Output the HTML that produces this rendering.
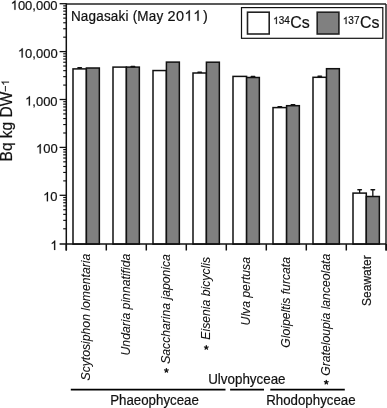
<!DOCTYPE html><html><head><meta charset="utf-8"><style>html,body{margin:0;padding:0;background:#fff;}svg{display:block;filter:grayscale(1);}text{font-family:"Liberation Sans",sans-serif;stroke:#111;stroke-width:0.2px;}text[font-style=italic]{stroke-width:0.08px;}</style></head><body>
<svg width="387" height="408" viewBox="0 0 387 408">
<line x1="66.3" y1="4.0" x2="386.0" y2="4.0" stroke="#222" stroke-width="1.6"/>
<line x1="386.0" y1="4.0" x2="386.0" y2="250.5" stroke="#222" stroke-width="1.5"/>
<rect x="73.00" y="68.90" width="13.40" height="175.20" fill="#fff" stroke="#111" stroke-width="1.5"/>
<rect x="86.40" y="68.00" width="12.95" height="176.10" fill="#808080" stroke="#111" stroke-width="1.5"/>
<line x1="79.70" y1="67.90" x2="79.70" y2="68.90" stroke="#111" stroke-width="1.3"/>
<line x1="78.00" y1="67.90" x2="81.40" y2="67.90" stroke="#111" stroke-width="1.6" stroke-linecap="round"/>
<rect x="113.00" y="67.10" width="13.40" height="177.00" fill="#fff" stroke="#111" stroke-width="1.5"/>
<rect x="126.40" y="67.10" width="12.95" height="177.00" fill="#808080" stroke="#111" stroke-width="1.5"/>
<line x1="132.88" y1="66.60" x2="132.88" y2="67.10" stroke="#111" stroke-width="1.3"/>
<line x1="131.18" y1="66.60" x2="134.57" y2="66.60" stroke="#111" stroke-width="1.6" stroke-linecap="round"/>
<rect x="153.00" y="70.55" width="13.40" height="173.55" fill="#fff" stroke="#111" stroke-width="1.5"/>
<rect x="166.40" y="62.10" width="12.95" height="182.00" fill="#808080" stroke="#111" stroke-width="1.5"/>
<rect x="193.00" y="73.00" width="13.40" height="171.10" fill="#fff" stroke="#111" stroke-width="1.5"/>
<rect x="206.40" y="62.20" width="12.95" height="181.90" fill="#808080" stroke="#111" stroke-width="1.5"/>
<line x1="199.70" y1="72.30" x2="199.70" y2="73.00" stroke="#111" stroke-width="1.3"/>
<line x1="198.00" y1="72.30" x2="201.40" y2="72.30" stroke="#111" stroke-width="1.6" stroke-linecap="round"/>
<rect x="233.00" y="76.40" width="13.60" height="167.70" fill="#fff" stroke="#111" stroke-width="1.5"/>
<rect x="246.60" y="77.50" width="12.75" height="166.60" fill="#808080" stroke="#111" stroke-width="1.5"/>
<line x1="252.98" y1="76.60" x2="252.98" y2="77.50" stroke="#111" stroke-width="1.3"/>
<line x1="251.28" y1="76.60" x2="254.68" y2="76.60" stroke="#111" stroke-width="1.6" stroke-linecap="round"/>
<rect x="273.00" y="107.60" width="13.60" height="136.50" fill="#fff" stroke="#111" stroke-width="1.5"/>
<rect x="286.60" y="105.70" width="12.75" height="138.40" fill="#808080" stroke="#111" stroke-width="1.5"/>
<line x1="279.80" y1="106.80" x2="279.80" y2="107.60" stroke="#111" stroke-width="1.3"/>
<line x1="278.10" y1="106.80" x2="281.50" y2="106.80" stroke="#111" stroke-width="1.6" stroke-linecap="round"/>
<line x1="292.98" y1="104.80" x2="292.98" y2="105.70" stroke="#111" stroke-width="1.3"/>
<line x1="291.28" y1="104.80" x2="294.68" y2="104.80" stroke="#111" stroke-width="1.6" stroke-linecap="round"/>
<rect x="313.00" y="77.30" width="13.50" height="166.80" fill="#fff" stroke="#111" stroke-width="1.5"/>
<rect x="326.50" y="68.70" width="12.85" height="175.40" fill="#808080" stroke="#111" stroke-width="1.5"/>
<line x1="319.75" y1="76.30" x2="319.75" y2="77.30" stroke="#111" stroke-width="1.3"/>
<line x1="318.05" y1="76.30" x2="321.45" y2="76.30" stroke="#111" stroke-width="1.6" stroke-linecap="round"/>
<rect x="353.00" y="193.10" width="13.30" height="51.00" fill="#fff" stroke="#111" stroke-width="1.5"/>
<rect x="366.30" y="196.50" width="13.05" height="47.60" fill="#808080" stroke="#111" stroke-width="1.5"/>
<line x1="359.65" y1="189.70" x2="359.65" y2="193.10" stroke="#111" stroke-width="1.3"/>
<line x1="357.95" y1="189.70" x2="361.35" y2="189.70" stroke="#111" stroke-width="1.6" stroke-linecap="round"/>
<line x1="372.83" y1="189.70" x2="372.83" y2="196.50" stroke="#111" stroke-width="1.3"/>
<line x1="371.13" y1="189.70" x2="374.53" y2="189.70" stroke="#111" stroke-width="1.6" stroke-linecap="round"/>
<line x1="66.3" y1="3.25" x2="66.3" y2="250.5" stroke="#111" stroke-width="1.5"/>
<line x1="59.6" y1="244.1" x2="386.0" y2="244.1" stroke="#111" stroke-width="1.5"/>
<line x1="66.30" y1="244.1" x2="66.30" y2="250.5" stroke="#111" stroke-width="1.5"/>
<line x1="106.30" y1="244.1" x2="106.30" y2="250.5" stroke="#111" stroke-width="1.5"/>
<line x1="146.30" y1="244.1" x2="146.30" y2="250.5" stroke="#111" stroke-width="1.5"/>
<line x1="186.30" y1="244.1" x2="186.30" y2="250.5" stroke="#111" stroke-width="1.5"/>
<line x1="226.30" y1="244.1" x2="226.30" y2="250.5" stroke="#111" stroke-width="1.5"/>
<line x1="266.30" y1="244.1" x2="266.30" y2="250.5" stroke="#111" stroke-width="1.5"/>
<line x1="306.30" y1="244.1" x2="306.30" y2="250.5" stroke="#111" stroke-width="1.5"/>
<line x1="346.30" y1="244.1" x2="346.30" y2="250.5" stroke="#111" stroke-width="1.5"/>
<line x1="386.30" y1="244.1" x2="386.30" y2="250.5" stroke="#111" stroke-width="1.5"/>
<line x1="63.2" y1="228.78" x2="66.3" y2="228.78" stroke="#111" stroke-width="1.15"/>
<line x1="63.2" y1="220.35" x2="66.3" y2="220.35" stroke="#111" stroke-width="1.15"/>
<line x1="63.2" y1="214.36" x2="66.3" y2="214.36" stroke="#111" stroke-width="1.15"/>
<line x1="63.2" y1="209.72" x2="66.3" y2="209.72" stroke="#111" stroke-width="1.15"/>
<line x1="63.2" y1="205.93" x2="66.3" y2="205.93" stroke="#111" stroke-width="1.15"/>
<line x1="63.2" y1="202.72" x2="66.3" y2="202.72" stroke="#111" stroke-width="1.15"/>
<line x1="63.2" y1="199.94" x2="66.3" y2="199.94" stroke="#111" stroke-width="1.15"/>
<line x1="63.2" y1="197.49" x2="66.3" y2="197.49" stroke="#111" stroke-width="1.15"/>
<line x1="59.6" y1="195.30" x2="66.3" y2="195.30" stroke="#111" stroke-width="1.3"/>
<line x1="63.2" y1="180.88" x2="66.3" y2="180.88" stroke="#111" stroke-width="1.15"/>
<line x1="63.2" y1="172.45" x2="66.3" y2="172.45" stroke="#111" stroke-width="1.15"/>
<line x1="63.2" y1="166.46" x2="66.3" y2="166.46" stroke="#111" stroke-width="1.15"/>
<line x1="63.2" y1="161.82" x2="66.3" y2="161.82" stroke="#111" stroke-width="1.15"/>
<line x1="63.2" y1="158.03" x2="66.3" y2="158.03" stroke="#111" stroke-width="1.15"/>
<line x1="63.2" y1="154.82" x2="66.3" y2="154.82" stroke="#111" stroke-width="1.15"/>
<line x1="63.2" y1="152.04" x2="66.3" y2="152.04" stroke="#111" stroke-width="1.15"/>
<line x1="63.2" y1="149.59" x2="66.3" y2="149.59" stroke="#111" stroke-width="1.15"/>
<line x1="59.6" y1="147.40" x2="66.3" y2="147.40" stroke="#111" stroke-width="1.3"/>
<line x1="63.2" y1="132.98" x2="66.3" y2="132.98" stroke="#111" stroke-width="1.15"/>
<line x1="63.2" y1="124.55" x2="66.3" y2="124.55" stroke="#111" stroke-width="1.15"/>
<line x1="63.2" y1="118.56" x2="66.3" y2="118.56" stroke="#111" stroke-width="1.15"/>
<line x1="63.2" y1="113.92" x2="66.3" y2="113.92" stroke="#111" stroke-width="1.15"/>
<line x1="63.2" y1="110.13" x2="66.3" y2="110.13" stroke="#111" stroke-width="1.15"/>
<line x1="63.2" y1="106.92" x2="66.3" y2="106.92" stroke="#111" stroke-width="1.15"/>
<line x1="63.2" y1="104.14" x2="66.3" y2="104.14" stroke="#111" stroke-width="1.15"/>
<line x1="63.2" y1="101.69" x2="66.3" y2="101.69" stroke="#111" stroke-width="1.15"/>
<line x1="59.6" y1="99.50" x2="66.3" y2="99.50" stroke="#111" stroke-width="1.3"/>
<line x1="63.2" y1="85.08" x2="66.3" y2="85.08" stroke="#111" stroke-width="1.15"/>
<line x1="63.2" y1="76.65" x2="66.3" y2="76.65" stroke="#111" stroke-width="1.15"/>
<line x1="63.2" y1="70.66" x2="66.3" y2="70.66" stroke="#111" stroke-width="1.15"/>
<line x1="63.2" y1="66.02" x2="66.3" y2="66.02" stroke="#111" stroke-width="1.15"/>
<line x1="63.2" y1="62.23" x2="66.3" y2="62.23" stroke="#111" stroke-width="1.15"/>
<line x1="63.2" y1="59.02" x2="66.3" y2="59.02" stroke="#111" stroke-width="1.15"/>
<line x1="63.2" y1="56.24" x2="66.3" y2="56.24" stroke="#111" stroke-width="1.15"/>
<line x1="63.2" y1="53.79" x2="66.3" y2="53.79" stroke="#111" stroke-width="1.15"/>
<line x1="59.6" y1="51.60" x2="66.3" y2="51.60" stroke="#111" stroke-width="1.3"/>
<line x1="63.2" y1="37.18" x2="66.3" y2="37.18" stroke="#111" stroke-width="1.15"/>
<line x1="63.2" y1="28.75" x2="66.3" y2="28.75" stroke="#111" stroke-width="1.15"/>
<line x1="63.2" y1="22.76" x2="66.3" y2="22.76" stroke="#111" stroke-width="1.15"/>
<line x1="63.2" y1="18.12" x2="66.3" y2="18.12" stroke="#111" stroke-width="1.15"/>
<line x1="63.2" y1="14.33" x2="66.3" y2="14.33" stroke="#111" stroke-width="1.15"/>
<line x1="63.2" y1="11.12" x2="66.3" y2="11.12" stroke="#111" stroke-width="1.15"/>
<line x1="63.2" y1="8.34" x2="66.3" y2="8.34" stroke="#111" stroke-width="1.15"/>
<line x1="63.2" y1="5.89" x2="66.3" y2="5.89" stroke="#111" stroke-width="1.15"/>
<line x1="59.6" y1="3.70" x2="66.3" y2="3.70" stroke="#111" stroke-width="1.3"/>
<text class="r1" transform="translate(57.60,249.90) scale(1.0000,1.0410)" font-size="13" text-anchor="end" fill="#111"> </text>
<text class="r1" transform="translate(57.60,201.30) scale(1.0000,1.0410)" font-size="13" text-anchor="end" fill="#111"> 0</text>
<text class="r1" transform="translate(57.60,153.40) scale(1.0000,1.0410)" font-size="13" text-anchor="end" fill="#111"> 00</text>
<text class="r1" transform="translate(57.60,105.50) scale(1.0000,1.0410)" font-size="13" text-anchor="end" fill="#111"> ,000</text>
<text class="r1" transform="translate(57.60,57.60) scale(1.0000,1.0410)" font-size="13" text-anchor="end" fill="#111"> 0,000</text>
<text class="r1" transform="translate(57.60,9.70) scale(1.0000,1.0410)" font-size="13" text-anchor="end" fill="#111"> 00,000</text>
<text class="r1" transform="translate(11.60,161.40) rotate(-90) scale(1.0000,1.0410)" font-size="15.5" fill="#111">Bq kg DW<tspan font-size="10.5" dy="-2.5">− </tspan></text>
<text letter-spacing="0.2" transform="translate(70.90,20.70) scale(1.0000,1.1181)" font-size="13.5" fill="#111">Nagasaki (May</text>
<text letter-spacing="0.4" transform="translate(167.60,20.70) scale(1.0000,1.0410)" font-size="14.5" fill="#111">20</text>
<path transform="translate(184.44,20.70) scale(0.007080,-0.007370)" d="M763,0H583V1102Q518,1042 412.5,983T223,894V1061Q374,1129 487,1226T647,1409H763Z" fill="#111" stroke="#111" stroke-width="28.2"/>
<path transform="translate(193.24,20.70) scale(0.007080,-0.007370)" d="M763,0H583V1102Q518,1042 412.5,983T223,894V1061Q374,1129 487,1226T647,1409H763Z" fill="#111" stroke="#111" stroke-width="28.2"/>
<text transform="translate(203.10,20.70) scale(1.0000,1.0410)" font-size="14.5" fill="#111">)</text>
<rect x="241.5" y="7.6" width="141.3" height="30.7" fill="#fff" stroke="#111" stroke-width="1.2"/>
<rect x="247.5" y="12.2" width="21.7" height="21.8" fill="#fff" stroke="#222" stroke-width="1.6"/>
<rect x="317.2" y="12.2" width="21.7" height="21.8" fill="#808080" stroke="#222" stroke-width="1.6"/>
<text class="r1" transform="translate(273.10,24.00) scale(1.0000,1.0410)" font-size="10" fill="#111"> 34</text>
<text transform="translate(290.20,27.60) scale(1.0000,1.0410)" font-size="16" fill="#111">Cs</text>
<text class="r1" transform="translate(342.80,24.00) scale(1.0000,1.0410)" font-size="10" fill="#111"> 37</text>
<text transform="translate(359.90,27.60) scale(1.0000,1.0410)" font-size="16" fill="#111">Cs</text>
<text transform="translate(90.20,253.80) rotate(-90) scale(0.9385,1.0000)" font-size="13" text-anchor="end" font-style="italic" fill="#111">Scytosiphon lomentaria</text>
<text transform="translate(130.20,253.80) rotate(-90) scale(0.9385,1.0000)" font-size="13" text-anchor="end" font-style="italic" fill="#111">Undaria pinnatifida</text>
<text transform="translate(170.20,254.10) rotate(-90) scale(0.9385,1.0000)" font-size="13" text-anchor="end" font-style="italic" fill="#111">Saccharina japonica</text>
<text transform="translate(210.20,257.00) rotate(-90) scale(0.9385,1.0000)" font-size="13" text-anchor="end" font-style="italic" fill="#111">Eisenia bicyclis</text>
<text transform="translate(250.20,257.00) rotate(-90) scale(0.9385,1.0000)" font-size="13" text-anchor="end" font-style="italic" fill="#111">Ulva pertusa</text>
<text transform="translate(290.20,257.00) rotate(-90) scale(0.9385,1.0000)" font-size="13" text-anchor="end" font-style="italic" fill="#111">Gloipeltis furcata</text>
<text transform="translate(330.20,253.80) rotate(-90) scale(0.9385,1.0000)" font-size="13" text-anchor="end" font-style="italic" fill="#111">Grateloupia lanceolata</text>
<text transform="translate(370.90,255.30) rotate(-90) scale(1.0000,1.0410)" font-size="12" text-anchor="end" fill="#111">Seawater</text>
<path d="M166.40 370.50L166.40 368.55M166.40 370.50L168.25 369.90M166.40 370.50L167.55 372.08M166.40 370.50L165.25 372.08M166.40 370.50L164.55 369.90" stroke="#111" stroke-width="1.3" stroke-linecap="round" fill="none"/>
<path d="M206.30 347.60L206.30 345.65M206.30 347.60L208.15 347.00M206.30 347.60L207.45 349.18M206.30 347.60L205.15 349.18M206.30 347.60L204.45 347.00" stroke="#111" stroke-width="1.3" stroke-linecap="round" fill="none"/>
<path d="M326.30 382.30L326.30 380.35M326.30 382.30L328.15 381.70M326.30 382.30L327.45 383.88M326.30 382.30L325.15 383.88M326.30 382.30L324.45 381.70" stroke="#111" stroke-width="1.3" stroke-linecap="round" fill="none"/>
<line x1="70.8" y1="389.7" x2="225.5" y2="389.7" stroke="#000" stroke-width="1.8"/>
<line x1="230.1" y1="389.7" x2="264" y2="389.7" stroke="#000" stroke-width="1.8"/>
<line x1="270.3" y1="389.7" x2="344.8" y2="389.7" stroke="#000" stroke-width="1.8"/>
<text transform="translate(110.20,404.60) scale(1.0000,1.0410)" font-size="13.3" fill="#111">Phaeophyceae</text>
<text transform="translate(208.20,383.80) scale(1.0000,1.0410)" font-size="13.4" fill="#111">Ulvophyceae</text>
<text transform="translate(266.20,404.60) scale(1.0000,1.0410)" font-size="13.3" fill="#111">Rhodophyceae</text>
<path transform="translate(57.60,249.90) scale(1.0000,1.0410) translate(-7.225,0.000) scale(0.006348,-0.006348)" d="M763,0H583V1102Q518,1042 412.5,983T223,894V1061Q374,1129 487,1226T647,1409H763Z" fill="#111" stroke="#111" stroke-width="31.5"/>
<path transform="translate(57.60,201.30) scale(1.0000,1.0410) translate(-14.451,0.000) scale(0.006348,-0.006348)" d="M763,0H583V1102Q518,1042 412.5,983T223,894V1061Q374,1129 487,1226T647,1409H763Z" fill="#111" stroke="#111" stroke-width="31.5"/>
<path transform="translate(57.60,153.40) scale(1.0000,1.0410) translate(-21.661,0.000) scale(0.006348,-0.006348)" d="M763,0H583V1102Q518,1042 412.5,983T223,894V1061Q374,1129 487,1226T647,1409H763Z" fill="#111" stroke="#111" stroke-width="31.5"/>
<path transform="translate(57.60,105.50) scale(1.0000,1.0410) translate(-32.499,0.000) scale(0.006348,-0.006348)" d="M763,0H583V1102Q518,1042 412.5,983T223,894V1061Q374,1129 487,1226T647,1409H763Z" fill="#111" stroke="#111" stroke-width="31.5"/>
<path transform="translate(57.60,57.60) scale(1.0000,1.0410) translate(-39.709,0.000) scale(0.006348,-0.006348)" d="M763,0H583V1102Q518,1042 412.5,983T223,894V1061Q374,1129 487,1226T647,1409H763Z" fill="#111" stroke="#111" stroke-width="31.5"/>
<path transform="translate(57.60,9.70) scale(1.0000,1.0410) translate(-46.934,0.000) scale(0.006348,-0.006348)" d="M763,0H583V1102Q518,1042 412.5,983T223,894V1061Q374,1129 487,1226T647,1409H763Z" fill="#111" stroke="#111" stroke-width="31.5"/>
<path transform="translate(11.60,161.40) rotate(-90) scale(1.0000,1.0410) translate(75.851,-2.500) scale(0.005127,-0.005127)" d="M763,0H583V1102Q518,1042 412.5,983T223,894V1061Q374,1129 487,1226T647,1409H763Z" fill="#111" stroke="#111" stroke-width="39.0"/>
<path transform="translate(273.10,24.00) scale(1.0000,1.0410) translate(0.000,0.000) scale(0.004883,-0.004883)" d="M763,0H583V1102Q518,1042 412.5,983T223,894V1061Q374,1129 487,1226T647,1409H763Z" fill="#111" stroke="#111" stroke-width="41.0"/>
<path transform="translate(342.80,24.00) scale(1.0000,1.0410) translate(0.000,0.000) scale(0.004883,-0.004883)" d="M763,0H583V1102Q518,1042 412.5,983T223,894V1061Q374,1129 487,1226T647,1409H763Z" fill="#111" stroke="#111" stroke-width="41.0"/>
</svg></body></html>
